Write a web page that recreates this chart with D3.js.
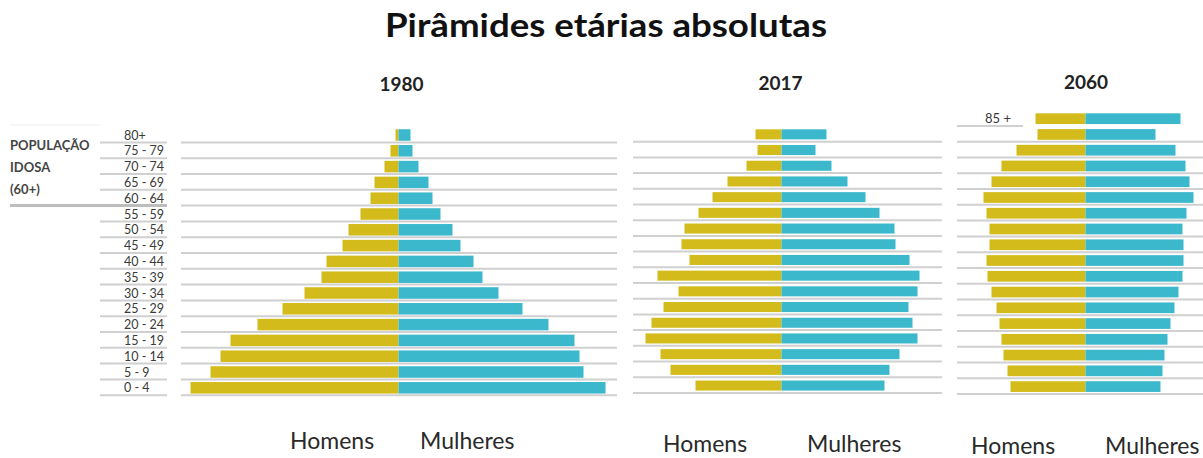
<!DOCTYPE html>
<html>
<head>
<meta charset="utf-8">
<script src="https://cdn.jsdelivr.net/npm/d3@7"></script>
<style>
  body { margin: 0; background: #fff; }
  svg { display: block; }
</style>
</head>
<body>
<svg id="chart" width="1203" height="458"></svg>
<script>
// faixas etárias (de cima para baixo)
const ages1980 = ["80+", "75 - 79", "70 - 74", "65 - 69", "60 - 64", "55 - 59", "50 - 54", "45 - 49",
  "40 - 44", "35 - 39", "30 - 34", "25 - 29", "20 - 24", "15 - 19", "10 - 14", "5 - 9", "0 - 4"];
const ages2060 = ["85 +", "80 - 84", "75 - 79", "70 - 74", "65 - 69", "60 - 64", "55 - 59", "50 - 54", "45 - 49",
  "40 - 44", "35 - 39", "30 - 34", "25 - 29", "20 - 24", "15 - 19", "10 - 14", "5 - 9", "0 - 4"];

// comprimento das barras (unidades relativas)
const men1980   = [3, 8, 14, 24, 28, 38, 50, 56, 72, 77, 94, 116, 141, 168, 178, 188, 208];
const women1980 = [12, 14, 20, 30, 34, 42, 54, 62, 75, 84, 100, 124, 150, 176, 181, 185, 207];

const men2017   = [26, 24, 35, 54, 69, 83, 97, 100, 92, 124, 103, 118, 130, 136, 121, 111, 86];
const women2017 = [45, 34, 50, 66, 84, 98, 113, 114, 128, 138, 136, 127, 131, 136, 118, 108, 103];

const men2060   = [50, 48, 69, 84, 94, 102, 99, 96, 96, 99, 98, 94, 89, 86, 84, 82, 78, 75];
const women2060 = [95, 70, 90, 100, 104, 108, 101, 97, 98, 98, 97, 93, 89, 85, 82, 79, 77, 75];

const sexLabels = ["Homens", "Mulheres"];

const COLOR_MEN = "#d4bb1c", COLOR_WOMEN = "#3cb8cd", COLOR_LINE = "#d0d0d0";

const svg = d3.select("#chart");

// título
svg.append("text")
  .attr("x", 385).attr("y", 37)
  .attr("textLength", 442)
  .attr("lengthAdjust", "spacingAndGlyphs")
  .style("font-family", "Lato, 'Open Sans', sans-serif")
  .style("font-weight", "bold")
  .style("font-size", "32px")
  .attr("fill", "#111")
  .text("Pirâmides etárias absolutas");

// escala horizontal comum (comprimento das barras)
const x = d3.scaleLinear().domain([0, 220]).range([0, 220]);

const panels = [
  {year: "1980", ages: ages1980, men: men1980, women: women1980, cx: 398.5, y0: 127.1, step: 15.8, pad: 0.27,
   lineX: [181, 617], yearX: 401.5, yearY: 91, labY: 449, homX: 290, mulX: 420},
  {year: "2017", ages: ages1980, men: men2017, women: women2017, cx: 781.5, y0: 126.5, step: 15.7, pad: 0.36,
   lineX: [633, 942], yearX: 780.5, yearY: 90, labY: 452, homX: 663, mulX: 807},
  {year: "2060", ages: ages2060, men: men2060, women: women2060, cx: 1085.5, y0: 110.8, step: 15.76, pad: 0.32,
   lineX: [957, 1203], yearX: 1086, yearY: 89, labY: 454, homX: 971, mulX: 1105}
];

function drawPanel(p) {
  const n = p.ages.length;
  const y = d3.scaleBand()
    .domain(p.ages)
    .range([p.y0, p.y0 + n * p.step])
    .paddingInner(p.pad)
    .paddingOuter(p.pad / 2);

  const g = svg.append("g").attr("class", "panel-" + p.year);

  // linhas de fundo sob cada faixa
  g.selectAll("line.row")
    .data(p.ages)
    .enter()
    .append("line")
    .attr("class", "row")
    .attr("x1", (d, i) => p.lineX[0])
    .attr("x2", (d, i) => (p.year === "2060" && i === 0) ? 1023 : p.lineX[1])
    .attr("y1", d => y(d) + y.bandwidth() / 2 + p.step / 2 - 0.5)
    .attr("y2", d => y(d) + y.bandwidth() / 2 + p.step / 2 - 0.5)
    .attr("stroke", COLOR_LINE)
    .attr("stroke-width", 2);

  // homens
  g.selectAll("rect.men")
    .data(p.men)
    .enter()
    .append("rect")
    .attr("class", "men")
    .attr("x", d => p.cx - x(d))
    .attr("y", (d, i) => y(p.ages[i]))
    .attr("width", d => x(d))
    .attr("height", y.bandwidth())
    .attr("fill", COLOR_MEN);

  // mulheres
  g.selectAll("rect.women")
    .data(p.women)
    .enter()
    .append("rect")
    .attr("class", "women")
    .attr("x", p.cx)
    .attr("y", (d, i) => y(p.ages[i]))
    .attr("width", d => x(d))
    .attr("height", y.bandwidth())
    .attr("fill", COLOR_WOMEN);

  // ano
  g.append("text")
    .attr("x", p.yearX).attr("y", p.yearY)
    .attr("text-anchor", "middle")
    .style("font-family", "Lato, sans-serif")
    .style("font-weight", "bold")
    .style("font-size", "19px")
    .attr("fill", "#222")
    .text(p.year);

  // Homens / Mulheres
  g.selectAll("text.sex")
    .data(sexLabels)
    .enter()
    .append("text")
    .attr("class", "sex")
    .attr("x", (d, i) => i === 0 ? p.homX : p.mulX)
    .attr("y", p.labY)
    .style("font-family", "Lato, sans-serif")
    .style("font-size", "23px")
    .attr("fill", "#2a2a2a")
    .text(d => d);

  return y;
}

const y1980 = drawPanel(panels[0]);
drawPanel(panels[1]);
const y2060 = drawPanel(panels[2]);

// rótulos das faixas etárias (à esquerda de 1980)
const ageG = svg.append("g").attr("class", "age-labels");
ageG.selectAll("line")
  .data(ages1980)
  .enter()
  .append("line")
  .attr("x1", 100).attr("x2", 167)
  .attr("y1", d => y1980(d) + y1980.bandwidth() / 2 + 15.8 / 2 - 0.5)
  .attr("y2", d => y1980(d) + y1980.bandwidth() / 2 + 15.8 / 2 - 0.5)
  .attr("stroke", COLOR_LINE)
  .attr("stroke-width", 2);

ageG.selectAll("text")
  .data(ages1980)
  .enter()
  .append("text")
  .attr("x", 124)
  .attr("y", d => y1980(d) + y1980.bandwidth() / 2 + 4.5)
  .style("font-family", "Lato, sans-serif")
  .style("font-size", "12.5px")
  .attr("fill", "#3a3a3a")
  .text(d => d);

// "85 +" em 2060
svg.append("text")
  .attr("x", 985)
  .attr("y", y2060(ages2060[0]) + y2060.bandwidth() / 2 + 4.5)
  .style("font-family", "Lato, sans-serif")
  .style("font-size", "13px")
  .attr("fill", "#3a3a3a")
  .text(ages2060[0]);

// população idosa (60+)
const idosa = ["POPULAÇÃO", "IDOSA", "(60+)"];
svg.selectAll("text.idosa")
  .data(idosa)
  .enter()
  .append("text")
  .attr("class", "idosa")
  .attr("x", 10)
  .attr("y", (d, i) => 150 + i * 22)
  .style("font-family", "Lato, sans-serif")
  .style("font-weight", "bold")
  .style("font-size", "13px")
  .attr("fill", "#444")
  .text(d => d);

const y60 = y1980("60 - 64") + y1980.bandwidth() / 2 + 15.8 / 2 - 0.5;
svg.append("line")
  .attr("x1", 10).attr("x2", 167)
  .attr("y1", y60).attr("y2", y60)
  .attr("stroke", "#bdbdbd")
  .attr("stroke-width", 3);
svg.append("line")
  .attr("x1", 10).attr("x2", 100)
  .attr("y1", 125).attr("y2", 125)
  .attr("stroke", "#eeeeee")
  .attr("stroke-width", 1);
</script>
</body>
</html>
